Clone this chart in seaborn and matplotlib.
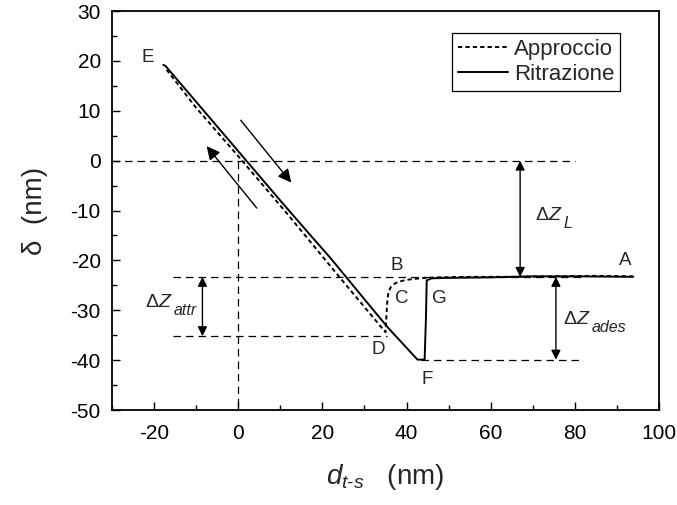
import numpy as np
import pandas as pd
import matplotlib
matplotlib.use("Agg")
import matplotlib.pyplot as plt
import seaborn as sns

# Approach curve (A -> B -> C -> D -> E)
approach_x = [93.9, 85, 75, 65, 55, 48, 44.5, 42, 40, 38.5, 37.3, 36.3, 35.7, 35.4, 35.2, 35.0,
              25, 11.5, 0, -10, -17.0]
approach_y = [-23.2, -23.1, -23.2, -23.3, -23.3, -23.4, -23.5, -23.7, -23.9, -24.2, -24.6, -25.3,
              -26.3, -28.5, -31.5, -34.4, -24.3, -10.5, 0.9, 10.6, 18.2]

# Retraction curve (E -> F -> G -> A)
retract_x = [-17.8, -17.3, -10, 0, 10, 17, 21.8, 30, 35.6, 39, 42.6, 44.3, 44.6, 44.8, 46,
             50, 60, 70, 80, 93.9]
retract_y = [19.2, 19.0, 11.8, 1.9, -8.0, -14.8, -19.4, -27.8, -33.5, -36.6, -39.9, -39.9,
             -32.0, -24.0, -23.6, -23.5, -23.4, -23.2, -23.2, -23.3]

legend_labels = ["Approccio", "Ritrazione"]

# Reference levels
level_B = -23.3
level_D = -35.2
level_F = -39.9

sns.set_style("ticks")
plt.rcParams["font.family"] = ["Liberation Sans", "DejaVu Sans"]
plt.rcParams["mathtext.fontset"] = "custom"
plt.rcParams["mathtext.rm"] = "Liberation Sans"
plt.rcParams["mathtext.it"] = "Liberation Sans:italic"
plt.rcParams["mathtext.bf"] = "Liberation Sans:bold"
plt.rcParams["axes.unicode_minus"] = False

fig = plt.figure(figsize=(6.77, 5.05), dpi=100)
ax = fig.add_axes([0.1654, 0.1881, 0.9734 - 0.1654, 0.9782 - 0.1881])

df_a = pd.DataFrame({"x": approach_x, "y": approach_y})
df_r = pd.DataFrame({"x": retract_x, "y": retract_y})

sns.lineplot(data=df_a, x="x", y="y", sort=False, estimator=None, ax=ax,
             color="black", lw=1.4, linestyle=(0, (2.2, 1.6)), label=legend_labels[0])
sns.lineplot(data=df_r, x="x", y="y", sort=False, estimator=None, ax=ax,
             color="black", lw=1.4, linestyle="-", label=legend_labels[1])

ref = dict(color="black", lw=0.9, linestyle=(0, (6, 4)))
ax.plot([-30, 80], [0, 0], **ref)
ax.plot([0, 0], [0, -50], **ref)
ax.plot([-15.5, 82], [level_B, level_B], **ref)
ax.plot([-15.5, 35.3], [level_D, level_D], **ref)
ax.plot([43.5, 81.6], [level_F, level_F], **ref)

# Double-headed measurement arrows
dbl = dict(arrowstyle="<|-|>", color="black", lw=1.0, mutation_scale=14, shrinkA=0, shrinkB=0)
ax.annotate("", xy=(-8.5, level_B), xytext=(-8.5, level_D), arrowprops=dbl)
ax.annotate("", xy=(67.0, 0), xytext=(67.0, level_B), arrowprops=dbl)
ax.annotate("", xy=(75.5, level_B), xytext=(75.5, level_F), arrowprops=dbl)

# Direction arrows
one = dict(arrowstyle="-|>", color="black", lw=1.0, mutation_scale=20, shrinkA=0, shrinkB=0)
ax.annotate("", xy=(12.6, -4.4), xytext=(0.6, 8.1), arrowprops=one)
ax.annotate("", xy=(-7.5, 2.9), xytext=(4.4, -9.5), arrowprops=one)

fs_pt = 13.5
for s, x, y in [("E", -21.4, 20.7), ("A", 92.0, -20.0), ("B", 37.6, -21.0),
                ("C", 38.8, -27.6), ("G", 47.9, -27.6), ("D", 33.2, -37.8), ("F", 44.8, -43.9)]:
    ax.text(x, y, s, fontsize=fs_pt, ha="center", va="center")

# Delta-z labels with large italic subscripts
for sub, x, y in [("attr", -22.1, -28.5), ("L", 70.5, -11.1), ("ades", 77.2, -31.9)]:
    main = ax.text(x, y, r"$\Delta\mathit{Z}$", fontsize=14, ha="left", va="center")
    ax.annotate(sub, xy=(1, 0), xycoords=main, xytext=(0.5, 0.5), textcoords="offset points",
                fontsize=11.5, style="italic", ha="left", va="center")

ax.set_xlim(-30, 100)
ax.set_ylim(-50, 30)
ax.set_xticks(np.arange(-20, 101, 20))
ax.set_xticks(np.arange(-30, 101, 10), minor=True)
ax.set_yticks(np.arange(-50, 31, 10))
ax.set_yticks(np.arange(-50, 31, 5), minor=True)
ax.tick_params(which="both", direction="in", top=False, right=False, width=1.0,
               labelsize=15, colors="black", pad=8)
ax.tick_params(axis="x", which="both", pad=10)
ax.tick_params(which="major", length=6)
ax.tick_params(which="minor", length=3.5)
for sp in ax.spines.values():
    sp.set_visible(True)
    sp.set_linewidth(1.3)
    sp.set_color("black")

ax.set_xlabel(r"$\mathit{d}_{\mathit{t}\text{-}\mathit{s}}$   (nm)", fontsize=20, labelpad=14)
ax.set_ylabel("δ  (nm)", fontsize=20, labelpad=16)

leg = ax.legend(loc="upper right", bbox_to_anchor=(0.929, 0.945), fontsize=16,
                frameon=True, fancybox=False, edgecolor="black", framealpha=1,
                handlelength=2.25, handletextpad=0.3, borderpad=0.25, labelspacing=0.2,
                borderaxespad=0)
leg.get_frame().set_linewidth(0.9)

fig.savefig("out.png", dpi=100)
